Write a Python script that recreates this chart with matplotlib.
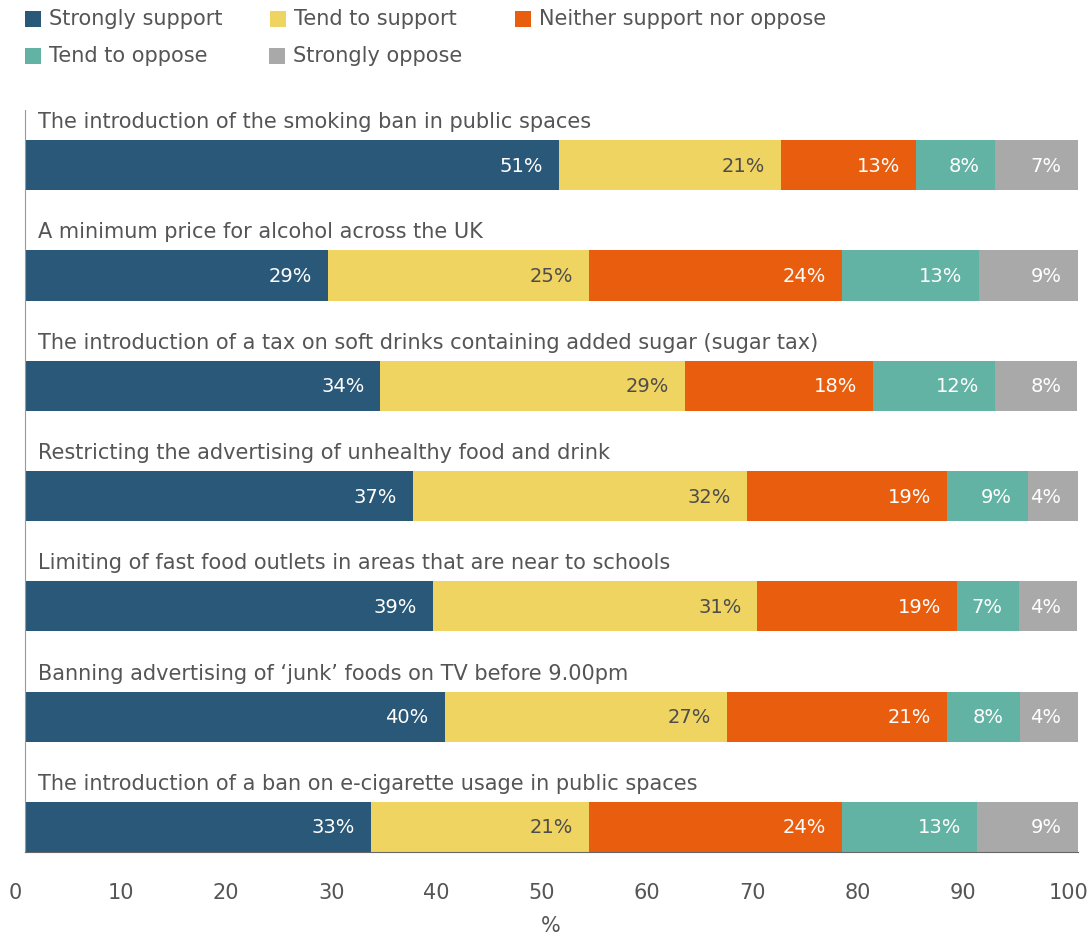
import numpy as np
import matplotlib.pyplot as plt
import matplotlib.transforms as mtransforms
from matplotlib.patches import Rectangle

# survey answers per statement: segment widths (% of bar)
# and the labels printed on the bars (these are rounded separately in the source)
questions = [
    "The introduction of the smoking ban in public spaces",
    "A minimum price for alcohol across the UK",
    "The introduction of a tax on soft drinks containing added sugar (sugar tax)",
    "Restricting the advertising of unhealthy food and drink",
    "Limiting of fast food outlets in areas that are near to schools",
    "Banning advertising of \u2018junk\u2019 foods on TV before 9.00pm",
    "The introduction of a ban on e-cigarette usage in public spaces",
]
answers = ["Strongly support", "Tend to support", "Neither support nor oppose",
           "Tend to oppose", "Strongly oppose"]
strongly_support = [50.8, 28.8, 33.8, 36.9, 38.8, 39.9, 32.9]
tend_support = [21.0, 24.8, 28.9, 31.7, 30.8, 26.8, 20.7]
neither = [12.9, 24.0, 17.9, 19.0, 19.0, 20.9, 24.0]
tend_oppose = [7.5, 13.0, 11.6, 7.7, 5.8, 6.9, 12.9]
strongly_oppose = [7.8, 9.4, 7.8, 4.7, 5.6, 5.5, 9.5]

strongly_support_lbl = [51, 29, 34, 37, 39, 40, 33]
tend_support_lbl = [21, 25, 29, 32, 31, 27, 21]
neither_lbl = [13, 24, 18, 19, 19, 21, 24]
tend_oppose_lbl = [8, 13, 12, 9, 7, 8, 13]
strongly_oppose_lbl = [7, 9, 8, 4, 4, 4, 9]

colors = ["#2a5878", "#efd462", "#e85d0e", "#62b3a4", "#a9a9aa"]
text_colors = ["white", "#4d4d4d", "white", "white", "white"]
grey = "#555555"

plt.rcParams["font.family"] = ["DejaVu Sans"]

W, H = 1089, 938
fig = plt.figure(figsize=(W / 100, H / 100), dpi=100)
ax = fig.add_axes([24.5 / W, (H - 852) / H, 1053 / W, 742 / H])

series = [strongly_support, tend_support, neither, tend_oppose, strongly_oppose]
labels = [strongly_support_lbl, tend_support_lbl, neither_lbl, tend_oppose_lbl,
          strongly_oppose_lbl]
y = np.arange(len(questions))
left = np.zeros(len(questions))
for vals, lbls, col, tcol in zip(series, labels, colors, text_colors):
    vals = np.array(vals)
    ax.barh(y, vals, left=left, height=0.455, color=col, linewidth=0)
    for yi, l, v, t in zip(y, left, vals, lbls):
        ax.annotate(f"{t}%", xy=(l + v, yi), xytext=(-16, -1),
                    textcoords="offset pixels", ha="right", va="center",
                    color=tcol, fontsize=14, annotation_clip=False)
    left += vals

for yi, q in zip(y, questions):
    ax.annotate(q, xy=(0, yi - 0.2275), xytext=(14, 12), textcoords="offset pixels",
                ha="left", va="baseline", color=grey, fontsize=15)

ax.set_xlim(0, 100)
ax.set_ylim(6.227, -0.5)
ax.set_xticks(np.arange(0, 101, 10))
ax.set_yticks([])
ax.tick_params(axis="x", length=0, labelsize=15, labelcolor=grey, pad=22)
offset = mtransforms.ScaledTranslation(-9 / 100, 0, fig.dpi_scale_trans)
for lbl in ax.get_xticklabels():
    lbl.set_transform(lbl.get_transform() + offset)
for s in ["top", "right"]:
    ax.spines[s].set_visible(False)
ax.spines["left"].set_color("#999999")
ax.spines["bottom"].set_color("#666666")
ax.set_xlabel("%", fontsize=15, color=grey, labelpad=10)

# legend laid out row by row like the original
leg_x = [25, 270, 515, 25, 269]
leg_y = [19, 19, 19, 56, 56]
for name, col, lx, ly in zip(answers, colors, leg_x, leg_y):
    fig.patches.append(Rectangle(((lx) / W, 1 - (ly + 8) / H), 16 / W, 16 / H,
                                 facecolor=col, edgecolor="none",
                                 transform=fig.transFigure))
    fig.text((lx + 24) / W, 1 - ly / H, name, ha="left", va="center",
             color=grey, fontsize=15)

fig.savefig("out.png", dpi=100)
